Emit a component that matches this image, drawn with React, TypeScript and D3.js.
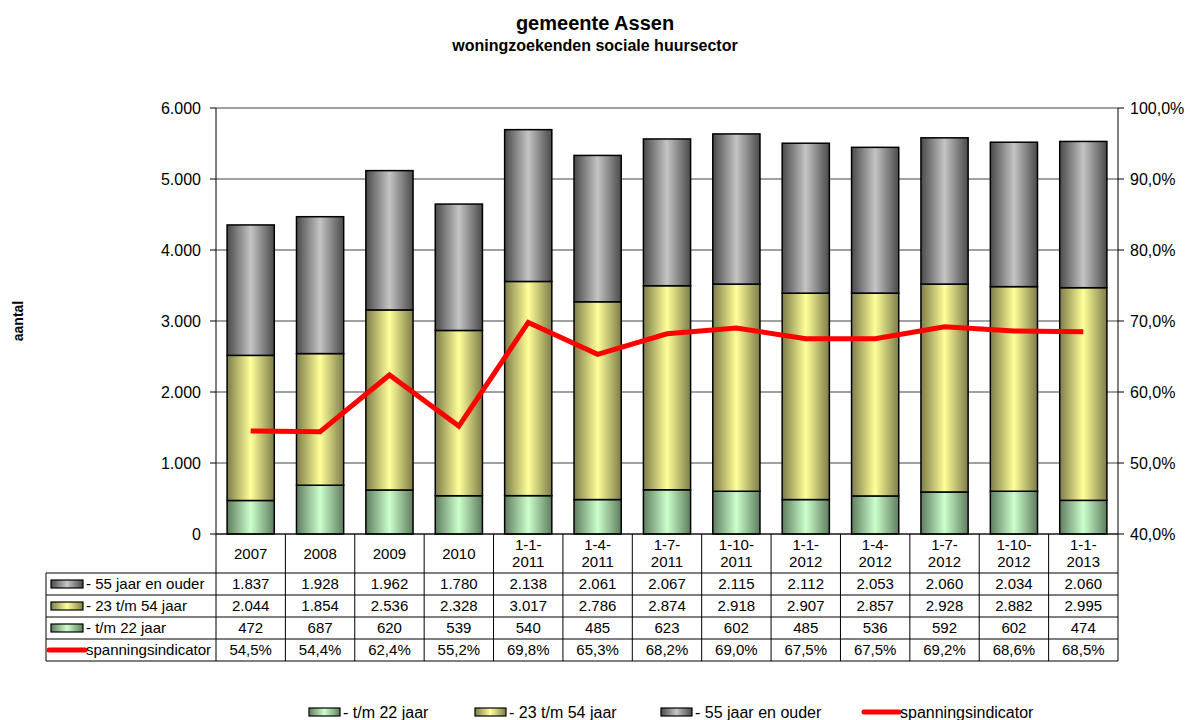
import React from "react";
import * as d3 from "d3";

const categories = ["2007", "2008", "2009", "2010", "1-1-2011", "1-4-2011", "1-7-2011", "1-10-2011", "1-1-2012", "1-4-2012", "1-7-2012", "1-10-2012", "1-1-2013"];
const young = [472, 687, 620, 539, 540, 485, 623, 602, 485, 536, 592, 602, 474];
const middle = [2044, 1854, 2536, 2328, 3017, 2786, 2874, 2918, 2907, 2857, 2928, 2882, 2995];
const older = [1837, 1928, 1962, 1780, 2138, 2061, 2067, 2115, 2112, 2053, 2060, 2034, 2060];
const indicator = [54.5, 54.4, 62.4, 55.2, 69.8, 65.3, 68.2, 69.0, 67.5, 67.5, 69.2, 68.6, 68.5];
const leftTicks = [0, 1000, 2000, 3000, 4000, 5000, 6000];
const rightTicks = [40, 50, 60, 70, 80, 90, 100];

const seriesNames = ["- t/m 22 jaar", "- 23 t/m 54 jaar", "- 55 jaar en ouder"];
const lineName = "spanningsindicator";

const locale = d3.formatLocale({ decimal: ",", thousands: ".", grouping: [3], currency: ["€", ""] });
const fmtInt = locale.format(",d");
const fmtPct = (v: number) => locale.format(".1f")(v) + "%";

const FONT = "'Liberation Sans', Arial, sans-serif";

const gradients = [
  { id: "gGreen", edge: "#5f7d5f", mid: "#ccffcc" },
  { id: "gYellow", edge: "#7d7d4a", mid: "#ffff99" },
  { id: "gGray", edge: "#4a4a4a", mid: "#c4c4c4" },
];

function splitLabel(c: string): string[] {
  const i = c.lastIndexOf("-");
  if (i < 0) return [c];
  return [c.slice(0, i + 1), c.slice(i + 1)];
}

export default function App() {
  const W = 1190, H = 720;
  const left = 216, right = 1118, top = 108, bottom = 534;
  const tableLeft = 46;
  const headerBottom = 573;
  const rowH = 22;

  const x = d3.scaleBand<string>().domain(categories).range([left, right]).padding(0);
  const bw = x.bandwidth() * 0.68;
  const y = d3.scaleLinear().domain([0, 6000]).range([bottom, top]);
  const y2 = d3.scaleLinear().domain([40, 100]).range([bottom, top]);

  const stackData = categories.map((c, i) => ({ c, young: young[i], middle: middle[i], older: older[i] }));
  const stack = d3.stack<any>().keys(["young", "middle", "older"])(stackData);

  const line = d3.line<number>()
    .x((_, i) => (x(categories[i]) as number) + x.bandwidth() / 2)
    .y((d) => y2(d));

  const rows = [
    { key: 2, values: older.map(fmtInt) },
    { key: 1, values: middle.map(fmtInt) },
    { key: 0, values: young.map(fmtInt) },
    { key: -1, values: indicator.map(fmtPct) },
  ];

  const legendItems = [
    { key: 0, x: 309, label: seriesNames[0] },
    { key: 1, x: 475, label: seriesNames[1] },
    { key: 2, x: 661, label: seriesNames[2] },
    { key: -1, x: 866, label: lineName },
  ];

  const keySymbol = (k: number, kx: number, cy: number, w: number) =>
    k >= 0 ? (
      <rect x={kx} y={cy - 4} width={w} height={8} fill={`url(#${gradients[k].id})`} stroke="#000" strokeWidth={1.2} />
    ) : (
      <line x1={kx - 2} x2={kx + w + 2} y1={cy} y2={cy} stroke="#ff0000" strokeWidth={5} strokeLinecap="round" />
    );

  return (
    <svg width={W} height={H} style={{ display: "block", position: "absolute", left: 0, top: 0, background: "#fff" }} fontFamily={FONT}>
      <defs>
        {gradients.map((g) => (
          <linearGradient key={g.id} id={g.id} x1="0" x2="1" y1="0" y2="0">
            <stop offset="0%" stopColor={g.edge} />
            <stop offset="50%" stopColor={g.mid} />
            <stop offset="100%" stopColor={g.edge} />
          </linearGradient>
        ))}
      </defs>
      <rect x={0} y={0} width={W} height={H} fill="#fff" />

      {/* titles */}
      <text x={595} y={30} textAnchor="middle" fontSize={20} fontWeight="bold">gemeente Assen</text>
      <text x={595} y={51} textAnchor="middle" fontSize={16} fontWeight="bold">woningzoekenden sociale huursector</text>
      <text transform={`translate(23,${(top + bottom) / 2}) rotate(-90)`} textAnchor="middle" fontSize={14} fontWeight="bold">aantal</text>

      {/* gridlines */}
      {leftTicks.map((t) => (
        <line key={t} x1={left} x2={right} y1={y(t)} y2={y(t)} stroke="#808080" strokeWidth={1.5} />
      ))}

      {/* bars */}
      {stack.map((s, si) => (
        <g key={si}>
          {s.map((d, i) => {
            const bx = (x(categories[i]) as number) + (x.bandwidth() - bw) / 2;
            return (
              <rect key={i} x={bx} y={y(d[1])} width={bw} height={y(d[0]) - y(d[1])}
                fill={`url(#${gradients[si].id})`} stroke="#000" strokeWidth={1.5} />
            );
          })}
        </g>
      ))}

      {/* line */}
      <path d={line(indicator) as string} fill="none" stroke="#ff0000" strokeWidth={5} strokeLinejoin="miter" />

      {/* left axis */}
      <line x1={left} x2={left} y1={top} y2={bottom} stroke="#000" strokeWidth={1} />
      {leftTicks.map((t) => (
        <g key={t}>
          <line x1={left - 6} x2={left} y1={y(t)} y2={y(t)} stroke="#000" />
          <text x={201} y={y(t)} dy="0.36em" textAnchor="end" fontSize={16}>{fmtInt(t)}</text>
        </g>
      ))}
      {/* right axis */}
      <line x1={right} x2={right} y1={top} y2={bottom} stroke="#000" strokeWidth={1} />
      {rightTicks.map((t) => (
        <g key={t}>
          <line x1={right} x2={right + 6} y1={y2(t)} y2={y2(t)} stroke="#000" />
          <text x={1130} y={y2(t)} dy="0.36em" textAnchor="start" fontSize={16}>{fmtPct(t)}</text>
        </g>
      ))}

      {/* data table */}
      <g stroke="#000" strokeWidth={1}>
        <line x1={left} x2={right} y1={bottom} y2={bottom} />
        {[0, 1, 2, 3, 4].map((r) => (
          <line key={r} x1={tableLeft} x2={right} y1={headerBottom + r * rowH} y2={headerBottom + r * rowH} />
        ))}
        <line x1={tableLeft} x2={tableLeft} y1={headerBottom} y2={headerBottom + 4 * rowH} />
        {categories.map((c) => (
          <line key={c} x1={x(c) as number} x2={x(c) as number} y1={bottom} y2={headerBottom + 4 * rowH} />
        ))}
        <line x1={right} x2={right} y1={bottom} y2={headerBottom + 4 * rowH} />
      </g>
      {categories.map((c) => {
        const lines = splitLabel(c);
        const cx = (x(c) as number) + x.bandwidth() / 2;
        const midY = (bottom + headerBottom) / 2;
        return (
          <text key={c} x={cx} textAnchor="middle" fontSize={15}>
            {lines.map((l, li) => (
              <tspan key={li} x={cx} y={midY + (li - (lines.length - 1) / 2) * 17} dy="0.36em">{l}</tspan>
            ))}
          </text>
        );
      })}
      {rows.map((r, ri) => {
        const cy = headerBottom + ri * rowH + rowH / 2;
        const label = r.key >= 0 ? seriesNames[r.key] : lineName;
        return (
          <g key={ri}>
            {keySymbol(r.key, 51, cy, 32)}
            <text x={86} y={cy} dy="0.36em" fontSize={15}>{label}</text>
            {r.values.map((v, i) => (
              <text key={i} x={(x(categories[i]) as number) + x.bandwidth() / 2} y={cy} dy="0.36em" textAnchor="middle" fontSize={15}>{v}</text>
            ))}
          </g>
        );
      })}

      {/* bottom legend */}
      {legendItems.map((it) => (
        <g key={it.label}>
          {keySymbol(it.key, it.x, 712, 31)}
          <text x={it.x + 34} y={712} dy="0.36em" fontSize={16}>{it.label}</text>
        </g>
      ))}
    </svg>
  );
}
